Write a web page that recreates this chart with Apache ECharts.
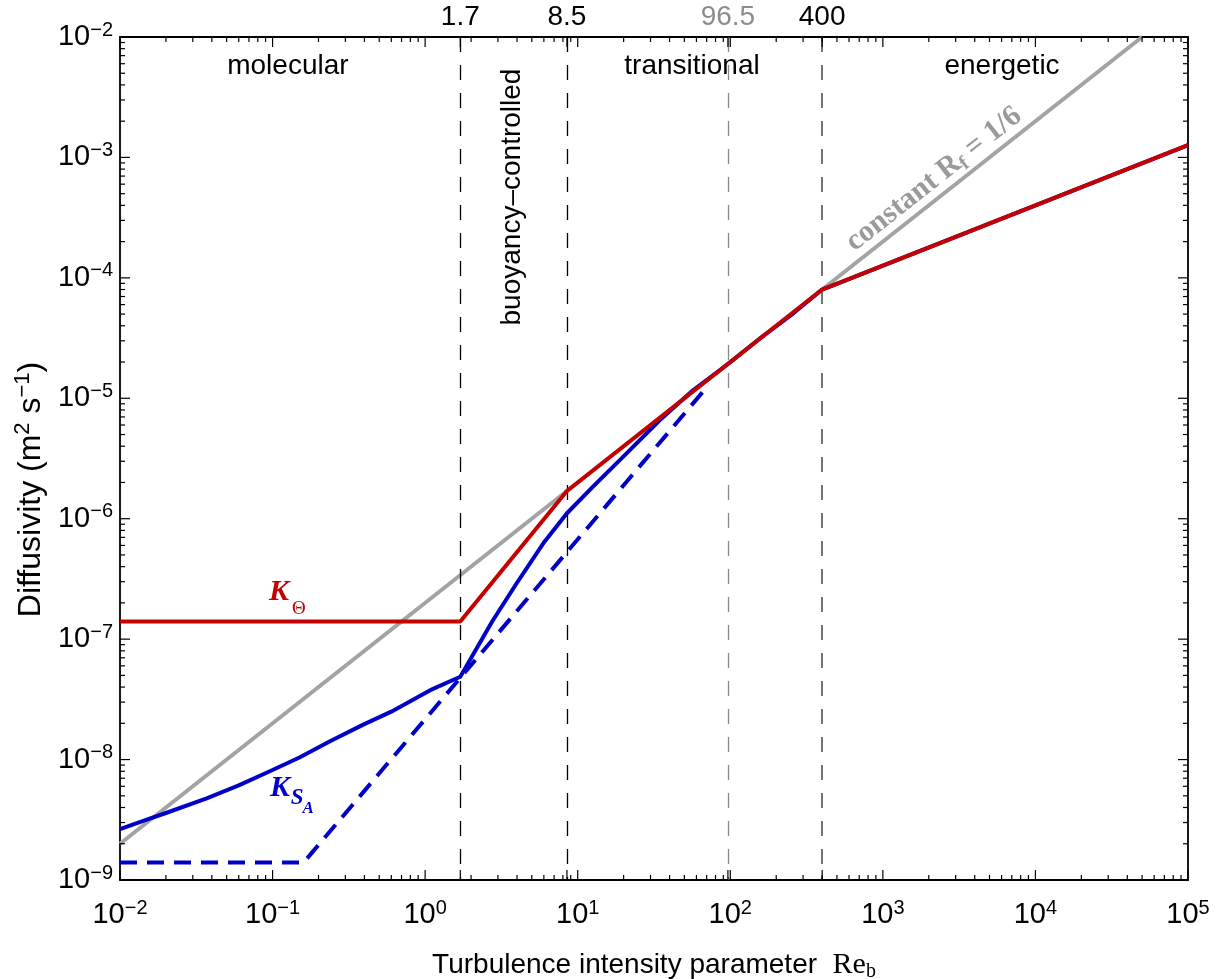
<!DOCTYPE html>
<html>
<head>
<meta charset="utf-8">
<title>Diffusivity vs buoyancy Reynolds number</title>
<script src="https://cdn.jsdelivr.net/npm/echarts@6/dist/echarts.min.js"></script>
<style>
  html, body { margin: 0; padding: 0; background: #fff; }
  #chart { width: 1217px; height: 979px; }
</style>
</head>
<body>
<div id="chart"></div>
<script>
// ---- axis ranges and tick values ----
const X_MIN = 1e-2, X_MAX = 1e5;
const Y_MIN = 1e-9, Y_MAX = 1e-2;
const xMajorTicks = [1e-2, 1e-1, 1e0, 1e1, 1e2, 1e3, 1e4, 1e5];
const yMajorTicks = [1e-9, 1e-8, 1e-7, 1e-6, 1e-5, 1e-4, 1e-3, 1e-2];

// ---- regime boundaries (Re_b) ----
const boundaryRe = [1.7, 8.5, 96.5, 400];
const boundaryLabels = ['1.7', '8.5', '96.5', '400'];
const boundaryColors = ['#000000', '#000000', '#888888', '#666666'];
const boundaryLabelColors = ['#000000', '#000000', '#8c8c8c', '#000000'];
const boundaryWidths = [1.3, 1.3, 1.3, 1.8];

// ---- constant mixing efficiency line, R_f = 1/6 ----
const rfRe = [0.01, 50000];
const rfK = [2e-9, 1e-2];

// ---- K_Theta (heat) ----
const kThetaRe = [0.01, 1.7, 8.5, 400, 100000];
const kThetaK = [1.4e-7, 1.4e-7, 1.7e-6, 8.0e-5, 1.265e-3];

// ---- K_SA (salt), solid ----
const kSaRe = [0.01, 0.0142, 0.02, 0.037, 0.06, 0.096, 0.15, 0.238, 0.393, 0.6, 1.08, 1.7,
               2.75, 3.98, 5.95, 8.5, 12.6, 20.9, 34.6, 57.2, 94.8,
               157, 259, 400, 100000];
const kSaK = [2.64e-9, 3.1e-9, 3.6e-9, 4.77e-9, 6.1e-9, 8.0e-9, 1.04e-8, 1.42e-8, 1.95e-8, 2.5e-8, 3.77e-8, 4.87e-8,
              1.4e-7, 2.91e-7, 6.25e-7, 1.11e-6, 1.85e-6, 3.49e-6, 6.6e-6, 1.17e-5, 1.89e-5,
              3.15e-5, 5.08e-5, 8.0e-5, 1.265e-3];

// ---- K_SA (salt), dashed ----
const kSaDashRe = [0.01, 0.16, 68];
const kSaDashK = [1.4e-9, 1.4e-9, 1.18e-5];

const SANS = '"Liberation Sans", Arial, Helvetica, sans-serif';
const SERIF = '"Liberation Serif", "Times New Roman", serif';

const pairs = (xs, ys) => xs.map((x, i) => [x, ys[i]]);

// minor ticks at 2..9 within each decade
function minorTicks(majors) {
  const out = [];
  for (let i = 0; i < majors.length - 1; i++) {
    for (let m = 2; m <= 9; m++) out.push(majors[i] * m);
  }
  return out;
}

// tick list for the custom tick painter: [x, y, length, isYAxis]
const tickData = [];
xMajorTicks.forEach(v => tickData.push([v, Y_MIN, 10, 0]));
minorTicks(xMajorTicks).forEach(v => tickData.push([v, Y_MIN, 5, 0]));
boundaryRe.forEach(v => tickData.push([v, Y_MIN, 10, 0]));
yMajorTicks.forEach(v => tickData.push([X_MIN, v, 10, 1]));
minorTicks(yMajorTicks).forEach(v => tickData.push([X_MIN, v, 5, 1]));

function powLabel(v) {
  const e = Math.round(Math.log10(v));
  return '{b|10}{e|' + (e < 0 ? '\u2212' + (-e) : String(e)) + '}';
}
const powRich = {
  b: { fontFamily: SANS, fontSize: 29, lineHeight: 34, color: '#000' },
  e: { fontFamily: SANS, fontSize: 20, lineHeight: 17, color: '#000', verticalAlign: 'top' }
};

const axisLineStyle = { show: true, onZero: false, lineStyle: { color: '#000', width: 1.8 } };

const chart = echarts.init(document.getElementById('chart'), null, { renderer: 'canvas' });

const option = {
  animation: false,
  backgroundColor: '#ffffff',
  grid: { left: 120, right: 29, top: 37, bottom: 99, containLabel: false, outerBoundsMode: 'none' },
  xAxis: [
    {
      type: 'log', logBase: 10, min: X_MIN, max: X_MAX, position: 'bottom',
      axisLine: axisLineStyle, axisTick: { show: false }, splitLine: { show: false },
      minorTick: { show: false }, minorSplitLine: { show: false },
      axisLabel: { formatter: powLabel, rich: powRich, margin: 18, hideOverlap: false },
      name: '{a|Turbulence intensity parameter  }{r|Re}{s|b}',
      nameLocation: 'middle', nameGap: 68,
      nameTextStyle: {
        rich: {
          a: { fontFamily: SANS, fontSize: 28, lineHeight: 34, color: '#000' },
          r: { fontFamily: SERIF, fontSize: 30, lineHeight: 34, color: '#000' },
          s: { fontFamily: SERIF, fontSize: 20, lineHeight: 18, color: '#000', verticalAlign: 'bottom' }
        }
      }
    },
    {
      type: 'log', logBase: 10, min: X_MIN, max: X_MAX, position: 'top',
      axisLine: axisLineStyle, axisTick: { show: false }, splitLine: { show: false },
      axisLabel: { show: false }
    }
  ],
  yAxis: [
    {
      type: 'log', logBase: 10, min: Y_MIN, max: Y_MAX, position: 'left',
      axisLine: axisLineStyle, axisTick: { show: false }, splitLine: { show: false },
      minorTick: { show: false }, minorSplitLine: { show: false },
      axisLabel: { formatter: powLabel, rich: powRich, margin: 7, hideOverlap: false },
      name: '{a|Diffusivity (m}{p|2}{a| s}{p|\u22121}{a|)}',
      nameLocation: 'middle', nameGap: 69,
      nameTextStyle: {
        padding: [0, 62, 0, 0],
        rich: {
          a: { fontFamily: SANS, fontSize: 32, lineHeight: 38, color: '#000' },
          p: { fontFamily: SANS, fontSize: 22, lineHeight: 20, color: '#000', verticalAlign: 'top' }
        }
      }
    },
    {
      type: 'log', logBase: 10, min: Y_MIN, max: Y_MAX, position: 'right',
      axisLine: axisLineStyle, axisTick: { show: false }, splitLine: { show: false },
      axisLabel: { show: false }
    }
  ],
  series: [
    {
      // inward ticks on all four sides
      type: 'custom', name: 'ticks', silent: true, clip: false, z: 10,
      data: tickData,
      renderItem: function (params, api) {
        const len = api.value(2);
        const isY = api.value(3) === 1;
        const st = { stroke: '#000', lineWidth: 1.2 };
        if (!isY) {
          const v = api.value(0);
          const a = api.coord([v, Y_MIN]);
          const b = api.coord([v, Y_MAX]);
          return { type: 'group', children: [
            { type: 'line', shape: { x1: a[0], y1: a[1], x2: a[0], y2: a[1] - len }, style: st },
            { type: 'line', shape: { x1: b[0], y1: b[1], x2: b[0], y2: b[1] + len }, style: st }
          ] };
        }
        const v = api.value(1);
        const a = api.coord([X_MIN, v]);
        const b = api.coord([X_MAX, v]);
        return { type: 'group', children: [
          { type: 'line', shape: { x1: a[0], y1: a[1], x2: a[0] + len, y2: a[1] }, style: st },
          { type: 'line', shape: { x1: b[0], y1: b[1], x2: b[0] - len, y2: b[1] }, style: st }
        ] };
      }
    },
    {
      // regime boundaries
      type: 'line', name: 'boundaries', data: [], silent: true,
      markLine: {
        silent: true, symbol: ['none', 'none'], animation: false,
        data: boundaryRe.map((re, i) => [
          {
            coord: [re, Y_MAX],
            lineStyle: { color: boundaryColors[i], width: boundaryWidths[i], type: [15, 13] },
            label: {
              show: true, position: 'start', formatter: boundaryLabels[i], distance: 6,
              fontFamily: SANS, fontSize: 28, color: boundaryLabelColors[i]
            }
          },
          { coord: [re, Y_MIN] }
        ])
      }
    },
    {
      type: 'line', name: 'Rf', data: pairs(rfRe, rfK), symbol: 'none', z: 2,
      lineStyle: { color: '#a3a3a3', width: 4 }
    },
    {
      type: 'line', name: 'KSA dashed', data: pairs(kSaDashRe, kSaDashK), symbol: 'none', z: 3,
      lineStyle: { color: '#0000c8', width: 4, type: [17, 10] }
    },
    {
      type: 'line', name: 'KSA', data: pairs(kSaRe, kSaK), symbol: 'none', z: 4,
      lineStyle: { color: '#0000c8', width: 4, join: 'round' }
    },
    {
      type: 'line', name: 'KTheta', data: pairs(kThetaRe, kThetaK), symbol: 'none', z: 5,
      lineStyle: { color: '#c40000', width: 4 }
    }
  ]
};

chart.setOption(option);

// ---- text annotations placed in data coordinates ----
const P = (x, y) => chart.convertToPixel({ xAxisIndex: 0, yAxisIndex: 0 }, [x, y]);

function txt(p, text, font, fill, rotation) {
  return {
    type: 'text', x: p[0], y: p[1], rotation: rotation || 0, silent: true, z: 20,
    style: {
      text: text, font: font, fill: fill,
      align: 'center', verticalAlign: 'middle',
      textAlign: 'center', textVerticalAlign: 'middle'
    }
  };
}

const regionLabels = ['molecular', 'buoyancy\u2013controlled', 'transitional', 'energetic'];
const regionRe = [0.126, 3.71, 56.1, 6040];
const regionK = [5.74e-3, 4.69e-4, 5.74e-3, 5.74e-3];
const regionRot = [0, Math.PI / 2, 0, 0];

const g = [];
regionLabels.forEach((t, i) => {
  g.push(txt(P(regionRe[i], regionK[i]), t, '28px ' + SANS, '#000', regionRot[i]));
});

// label along the constant-R_f line
const r0 = P(rfRe[0], rfK[0]);
const r1 = P(rfRe[1], rfK[1]);
const rfAngle = Math.atan2(r0[1] - r1[1], r1[0] - r0[0]);
const rfPos = P(2160, 6.6e-4);
g.push({
  type: 'text', x: rfPos[0], y: rfPos[1], rotation: rfAngle, silent: true, z: 20,
  style: {
    text: '{a|constant R}{f|f}{a| = 1/6}',
    align: 'center', verticalAlign: 'middle', textAlign: 'center', textVerticalAlign: 'middle',
    rich: {
      a: { fontFamily: SERIF, fontWeight: 'bold', fontSize: 30, lineHeight: 34, fill: '#9a9a9a', color: '#9a9a9a' },
      f: { fontFamily: SERIF, fontWeight: 'bold', fontSize: 20, lineHeight: 16, fill: '#9a9a9a', color: '#9a9a9a', verticalAlign: 'bottom' }
    }
  }
});

// curve names
const kth = P(0.110, 2.46e-7);
g.push(txt(kth, 'K', 'italic bold 30px ' + SERIF, '#c40000', 0));
g.push(txt([kth[0] + 20, kth[1] + 17], '\u0398', '19px ' + SERIF, '#c40000', 0));

const ksa = P(0.112, 5.81e-9);
g.push(txt(ksa, 'K', 'italic bold 30px ' + SERIF, '#0000c8', 0));
g.push(txt([ksa[0] + 17, ksa[1] + 10], 'S', 'italic bold 23px ' + SERIF, '#0000c8', 0));
g.push(txt([ksa[0] + 28, ksa[1] + 21], 'A', 'italic bold 17px ' + SERIF, '#0000c8', 0));

chart.setOption({ graphic: { elements: g } });
</script>
</body>
</html>
